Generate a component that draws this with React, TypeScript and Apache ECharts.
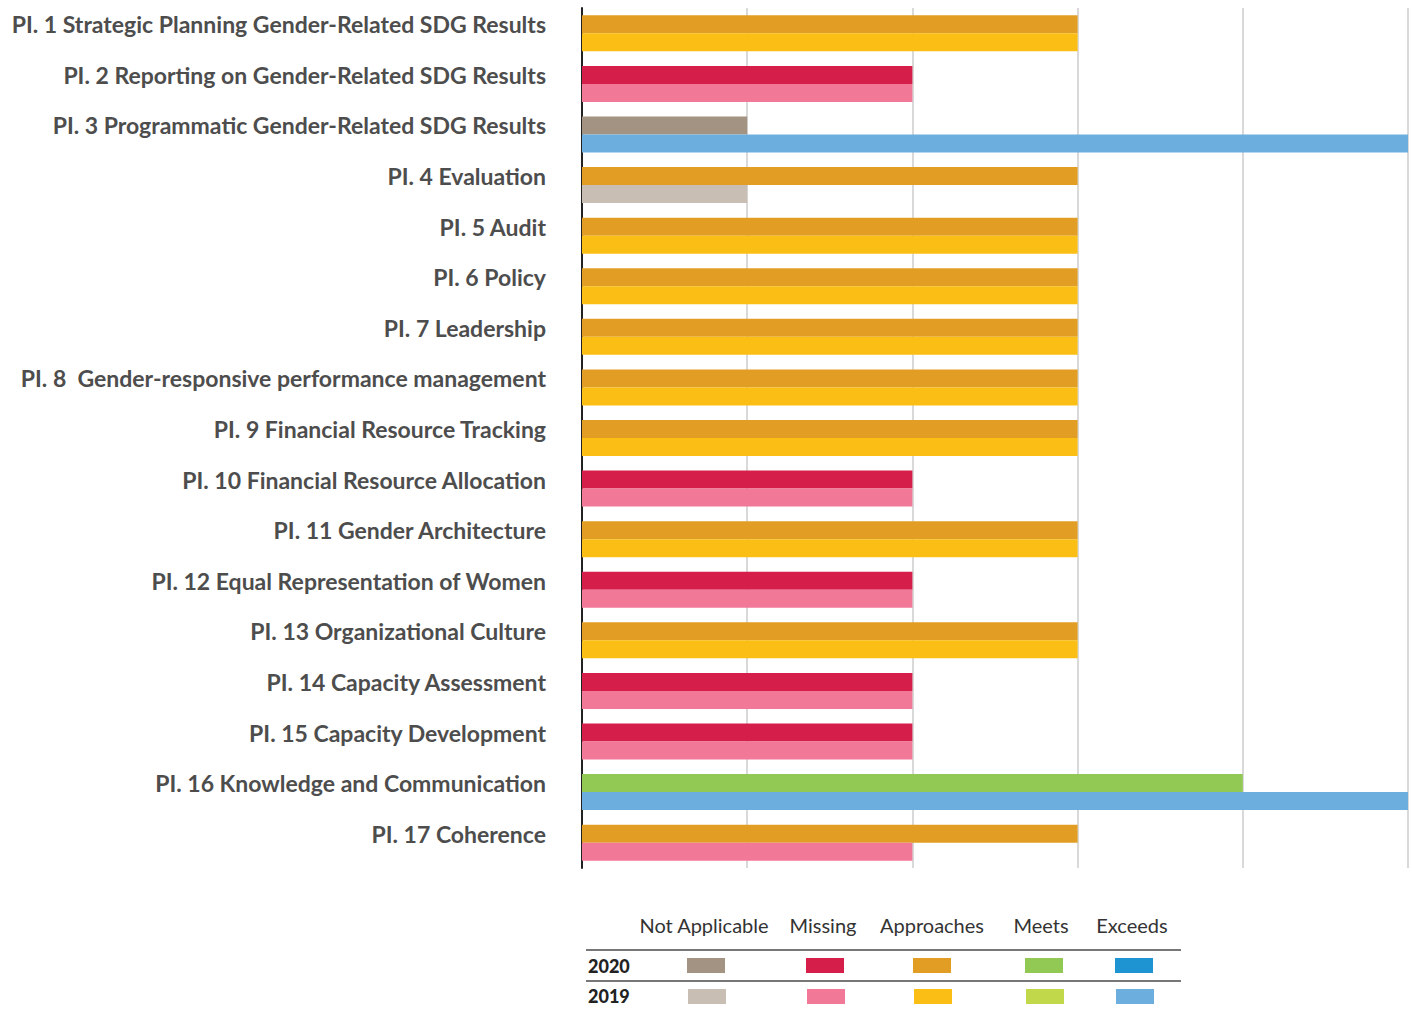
import React, { useEffect, useRef } from "react";
import * as echarts from "echarts";

const categories = [
  "PI. 1 Strategic Planning Gender-Related SDG Results",
  "PI. 2 Reporting on Gender-Related SDG Results",
  "PI. 3 Programmatic Gender-Related SDG Results",
  "PI. 4 Evaluation",
  "PI. 5 Audit",
  "PI. 6 Policy",
  "PI. 7 Leadership",
  "PI. 8  Gender-responsive performance management",
  "PI. 9 Financial Resource Tracking",
  "PI. 10 Financial Resource Allocation",
  "PI. 11 Gender Architecture",
  "PI. 12 Equal Representation of Women",
  "PI. 13 Organizational Culture",
  "PI. 14 Capacity Assessment",
  "PI. 15 Capacity Development",
  "PI. 16 Knowledge and Communication",
  "PI. 17 Coherence",
];

// 1 = Not Applicable, 2 = Missing, 3 = Approaches, 4 = Meets, 5 = Exceeds
const values2020 = [3, 2, 1, 3, 3, 3, 3, 3, 3, 2, 3, 2, 3, 2, 2, 4, 3];
const values2019 = [3, 2, 5, 1, 3, 3, 3, 3, 3, 2, 3, 2, 3, 2, 2, 5, 2];

const ratingNames = ["Not Applicable", "Missing", "Approaches", "Meets", "Exceeds"];
const colors2020 = ["#a39382", "#d61e4a", "#e29e24", "#92c955", "#1f94d2"];
const colors2019 = ["#c9beb4", "#f27898", "#fbbe15", "#c1d84b", "#6cafdf"];
const yearLabels = ["2020", "2019"];

export default function App() {
  const ref = useRef<HTMLDivElement>(null);
  useEffect(() => {
    if (!ref.current) return;
    const chart = echarts.init(ref.current, null, { renderer: "svg" });

    const headerX = [704, 823, 932, 1041, 1132];
    const swatchX = [687, 806, 913, 1025, 1115];
    const graphics: any[] = [];
    ratingNames.forEach((n, i) => {
      graphics.push({
        type: "text",
        x: headerX[i],
        y: 925,
        style: {
          text: n,
          fill: "#333",
          font: "400 20px Lato",
          textAlign: "center",
          textVerticalAlign: "middle",
        },
      });
      graphics.push({
        type: "rect",
        shape: { x: swatchX[i], y: 958, width: 38, height: 15 },
        style: { fill: colors2020[i] },
      });
      graphics.push({
        type: "rect",
        shape: { x: swatchX[i] + 1, y: 989, width: 38, height: 15 },
        style: { fill: colors2019[i] },
      });
    });
    graphics.push({
      type: "line",
      shape: { x1: 586, y1: 950, x2: 1181, y2: 950 },
      style: { stroke: "#777", lineWidth: 2 },
    });
    graphics.push({
      type: "line",
      shape: { x1: 586, y1: 981, x2: 1181, y2: 981 },
      style: { stroke: "#777", lineWidth: 2 },
    });
    yearLabels.forEach((t, i) => {
      graphics.push({
        type: "text",
        x: 588,
        y: 966 + i * 30,
        style: {
          text: t,
          fill: "#222",
          font: "900 18px Lato",
          textAlign: "left",
          textVerticalAlign: "middle",
        },
      });
    });

    chart.setOption({
      animation: false,
      grid: { left: 582, right: 4, top: 8, height: 860, containLabel: false },
      xAxis: {
        type: "value",
        min: 0,
        max: 5,
        interval: 1,
        axisLabel: { show: false },
        axisLine: { show: false },
        axisTick: { show: false },
        splitLine: { show: true, lineStyle: { color: "#d9d9d9", width: 2 } },
      },
      yAxis: {
        type: "category",
        inverse: true,
        data: categories,
        axisLine: { show: true, lineStyle: { color: "#222", width: 2 } },
        axisTick: { show: false },
        axisLabel: {
          margin: 36,
          color: "#4d4d4d",
          fontFamily: "Lato",
          fontWeight: 700,
          fontSize: 23,
          verticalAlign: "bottom",
          lineHeight: 18,
        },
      },
      series: [
        {
          name: "2020",
          type: "bar",
          barWidth: 18,
          barGap: "0%",
          data: values2020.map((v) => ({ value: v, itemStyle: { color: colors2020[v - 1] } })),
        },
        {
          name: "2019",
          type: "bar",
          barWidth: 18,
          barGap: "0%",
          data: values2019.map((v) => ({ value: v, itemStyle: { color: colors2019[v - 1] } })),
        },
      ],
      graphic: graphics,
    });
    return () => chart.dispose();
  }, []);
  return (
    <div
      ref={ref}
      style={{ position: "fixed", left: 0, top: 0, width: 1412, height: 1011, background: "#fff" }}
    />
  );
}
